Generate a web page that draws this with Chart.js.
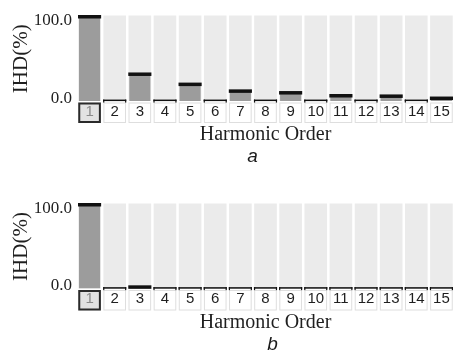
<!DOCTYPE html>
<html>
<head>
<meta charset="utf-8">
<script src="https://cdn.jsdelivr.net/npm/chart.js@4/dist/chart.umd.min.js"></script>
<style>
  html, body { margin: 0; padding: 0; background: #ffffff; }
  .panel { position: relative; width: 454px; }
  canvas { display: block; }
</style>
</head>
<body>
<div class="panel" style="height:175px"><canvas id="chartA" width="454" height="175"></canvas></div>
<div class="panel" style="height:176px"><canvas id="chartB" width="454" height="176"></canvas></div>
<script>
// ---- data ----
const categories = ['1', '2', '3', '4', '5', '6', '7', '8', '9', '10', '11', '12', '13', '14', '15'];
const valuesA = [100, 0.5, 32, 0.5, 20, 0.5, 12, 0.5, 10, 0.5, 6.5, 0.5, 6, 0.5, 3.5];
const valuesB = [100, 0.4, 2, 0.4, 0.4, 0.4, 0.4, 0.4, 0.4, 0.4, 0.4, 0.4, 0.4, 0.4, 0.4];
const yTicks = [0, 100];
const yAxisTitle = 'IHD(%)';
const xAxisTitle = 'Harmonic Order';
const captionA = 'a';
const captionB = 'b';
const selectedIndex = 0;

// ---- styling helpers ----
const SERIF = "'Liberation Serif', 'Times New Roman', serif";
const SANS = "'Liberation Sans', Arial, sans-serif";

function pitchOf(xs) { return (xs.right - xs.left) / xs.ticks.length; }

const panelPlugin = {
  id: 'panelDecor',
  beforeDraw(chart) {
    const ctx = chart.ctx, xs = chart.scales.x, area = chart.chartArea;
    const half = pitchOf(xs) * 0.45;
    ctx.save();
    xs.ticks.forEach((t, i) => {
      const cx = xs.getPixelForValue(i);
      const y0 = area.bottom + 1.5, h = 20.5;
      if (i === selectedIndex) {
        ctx.fillStyle = '#e2e2e2';
        ctx.fillRect(cx - half, y0, half * 2, h);
        ctx.strokeStyle = '#2a2a2a';
        ctx.lineWidth = 2;
        ctx.strokeRect(cx - half + 1, y0 + 1, half * 2 - 2, h - 2);
      } else {
        ctx.fillStyle = '#ffffff';
        ctx.fillRect(cx - half, y0, half * 2, h);
        ctx.strokeStyle = '#dedede';
        ctx.lineWidth = 1;
        ctx.strokeRect(cx - half + 0.5, y0 + 0.5, half * 2 - 1, h - 1);
      }
    });
    ctx.restore();
  },
  beforeDatasetsDraw(chart) {
    const ctx = chart.ctx, xs = chart.scales.x, area = chart.chartArea;
    const half = pitchOf(xs) * 0.45;
    ctx.save();
    ctx.fillStyle = '#ebebeb';
    xs.ticks.forEach((t, i) => {
      const cx = xs.getPixelForValue(i);
      ctx.fillRect(cx - half, area.top - 1, half * 2, area.bottom - area.top + 1);
    });
    ctx.restore();
  },
  afterDatasetsDraw(chart) {
    const ctx = chart.ctx, xs = chart.scales.x;
    const half = pitchOf(xs) * 0.46;
    const meta = chart.getDatasetMeta(0);
    const vals = chart.data.datasets[0].data;
    ctx.save();
    ctx.fillStyle = '#111111';
    meta.data.forEach((el, i) => {
      const cx = el.x, y = el.y;
      if (vals[i] >= 1) {
        ctx.fillRect(cx - half, y - 1.5, half * 2, 3.5);
      } else {
        ctx.fillRect(cx - half, y - 1, half * 2, 1.5);
        ctx.fillRect(cx - half, y - 1, 1.2, 3);
        ctx.fillRect(cx + half - 1.2, y - 1, 1.2, 3);
      }
    });
    ctx.restore();
  },
  afterDraw(chart) {
    const opts = chart.options.plugins.panelDecor || {};
    const ctx = chart.ctx, xs = chart.scales.x;
    ctx.save();
    ctx.fillStyle = '#1a1a1a';
    ctx.font = 'italic 19px ' + SANS;
    ctx.textAlign = 'center';
    ctx.textBaseline = 'middle';
    ctx.fillText(opts.caption || '', (xs.left + xs.right) / 2 + (opts.captionDx || 0), xs.bottom + 10);
    ctx.restore();
  }
};

function makeChart(id, values, caption, padTop, padBottom, captionDx) {
  return new Chart(document.getElementById(id), {
    type: 'bar',
    data: {
      labels: categories,
      datasets: [{
        data: values,
        backgroundColor: '#9c9c9c',
        borderWidth: 0,
        barPercentage: 0.84,
        categoryPercentage: 1.0
      }]
    },
    options: {
      responsive: false,
      animation: false,
      layout: { padding: { top: padTop, right: 0, bottom: padBottom, left: 0 } },
      plugins: {
        legend: { display: false },
        tooltip: { enabled: false },
        panelDecor: { caption: caption, captionDx: captionDx }
      },
      scales: {
        x: {
          grid: { display: false, drawTicks: false },
          border: { display: false },
          ticks: {
            padding: 1.5,
            font: { family: SANS, size: 15 },
            color: (c) => c.index === selectedIndex ? '#8a8a8a' : '#1f1f1f',
            maxRotation: 0,
            autoSkip: false
          },
          title: {
            display: true,
            text: xAxisTitle,
            font: { family: SERIF, size: 20 },
            color: '#1f1f1f',
            padding: { top: 0, bottom: 0 }
          },
          afterFit(scale) { scale.height = 46; }
        },
        y: {
          min: 0,
          max: 100,
          grid: { display: false, drawTicks: false },
          border: { display: false },
          afterBuildTicks(scale) { scale.ticks = yTicks.map(v => ({ value: v })); },
          ticks: {
            padding: 5,
            // labels sit just inside the plot range: top label below its tick, bottom label above it
            font: (c) => ({ family: SERIF, size: 17, lineHeight: c.index === 0 ? '5.5px' : '8px' }),
            color: '#1f1f1f',
            callback: (v, i, ticks) => {
              const s = Number(v).toFixed(1);
              return i === 0 ? [s, ''] : ['', s];
            }
          },
          title: {
            display: true,
            text: yAxisTitle,
            font: { family: SERIF, size: 21 },
            color: '#1f1f1f',
            padding: { top: 9, bottom: 0 }
          },
          afterFit(scale) { scale.width = 77; }
        }
      }
    },
    plugins: [panelPlugin]
  });
}

makeChart('chartA', valuesA, captionA, 16.5, 28, -13);
makeChart('chartB', valuesB, captionB, 29.5, 16.5, 7);
</script>
</body>
</html>
